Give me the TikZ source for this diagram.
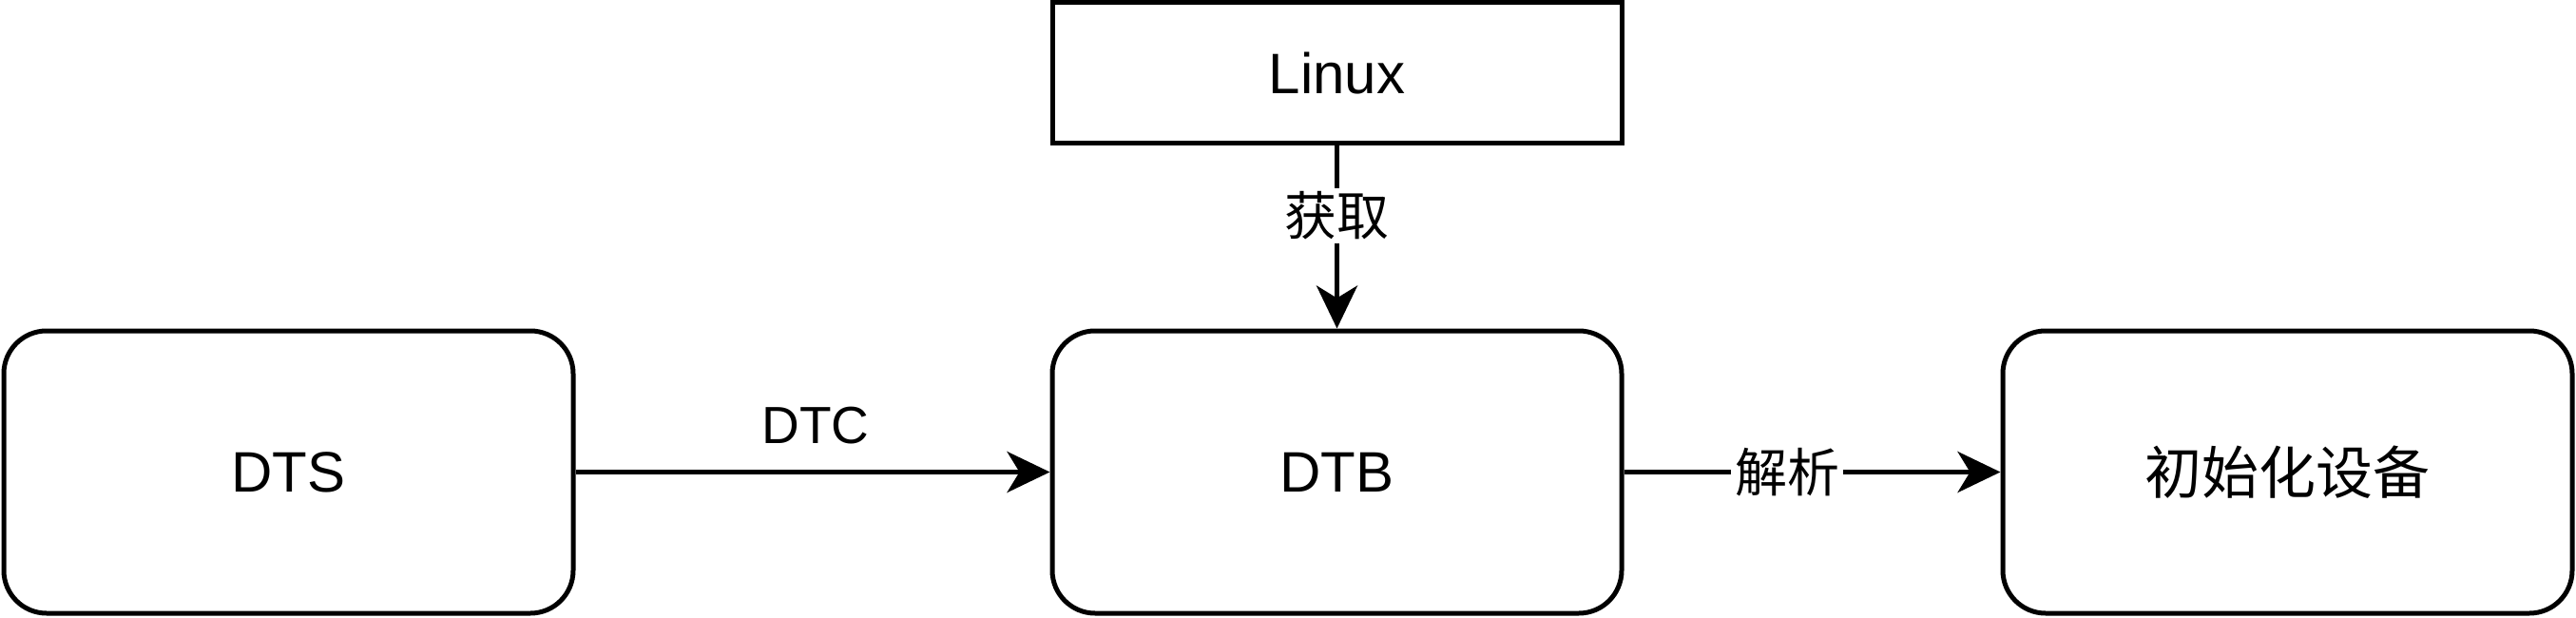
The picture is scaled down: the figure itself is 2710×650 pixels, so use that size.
\documentclass[tikz,border=0pt]{standalone}
\usepackage{fontspec}
\setmainfont{Liberation Sans}
\newfontfamily\cjk{Noto Sans CJK SC}
\usetikzlibrary{arrows.meta}
\begin{document}
\begin{tikzpicture}[x=1pt,y=-1pt,
  box/.style={draw=black,line width=5pt,fill=white,minimum width=599pt,minimum height=297pt,rounded corners=45pt,inner sep=0pt,font=\fontsize{60}{72}\selectfont},
  sqbox/.style={draw=black,line width=5pt,fill=white,minimum width=599pt,minimum height=148pt,inner sep=0pt,font=\fontsize{60}{72}\selectfont},
  conn/.style={line width=5pt,-{Stealth[length=45pt,width=43pt,inset=13pt]}},
  lab/.style={font=\fontsize{55}{66}\selectfont,inner sep=4pt}]
\useasboundingbox (0,0) rectangle (2710,650);
\node[box] (dts) at (303.5,496.5) {DTS};
\node[box] (dtb) at (1406.5,496.5) {DTB};
\node[box] (init) at (2406.5,496.5) {\cjk 初始化设备};
\node[sqbox] (linux) at (1406.5,77) {Linux};
\draw[conn] (dts) -- (dtb);
\node[lab] (ldtc) at (858,448) {DTC};
\draw[conn] (linux) -- (dtb);
\node[lab,fill=white] (lget) at (1406.5,227) {\cjk 获取};
\draw[conn] (dtb) -- (init);
\node[lab,fill=white] (lparse) at (1880,496.5) {\cjk 解析};
\end{tikzpicture}
\end{document}
